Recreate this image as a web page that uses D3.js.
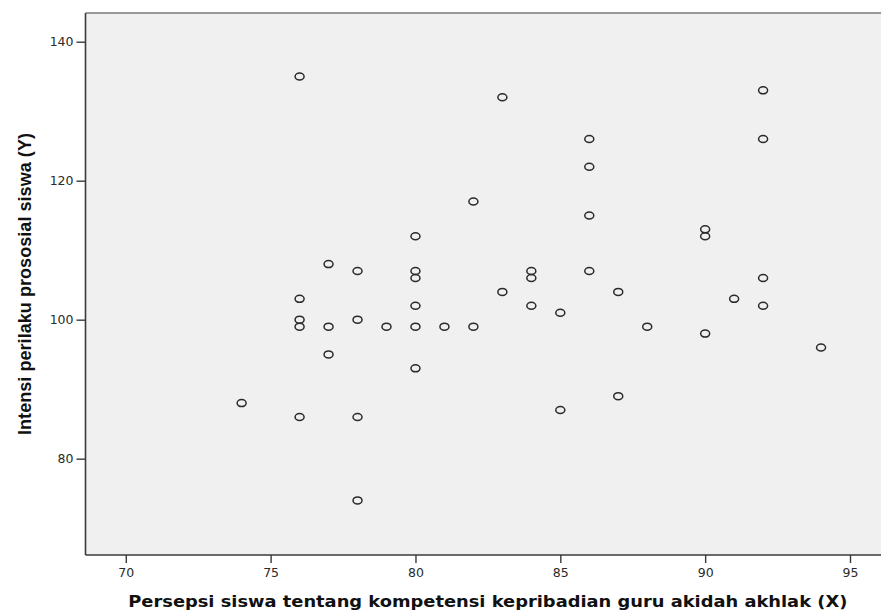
<!DOCTYPE html>
<html>
<head>
<meta charset="utf-8">
<script src="https://cdn.jsdelivr.net/npm/d3@7/dist/d3.min.js"></script>
<style>
  html, body { margin: 0; padding: 0; background: #fff; }
  svg { display: block; }
</style>
</head>
<body>
<svg id="chart" width="881" height="613"></svg>
<script>
const xValues = [76,83,92,86,92,86,82,86,90,90,80,77,78,80,84,86,80,84,92,83,87,76,91,80,84,92,85,76,78,76,77,79,80,81,82,88,90,94,77,80,87,74,85,76,78,78];
const yValues = [135,132,133,126,126,122,117,115,113,112,112,108,107,107,107,107,106,106,106,104,104,103,103,102,102,102,101,100,100,99,99,99,99,99,99,99,98,96,95,93,89,88,87,86,86,74];
const xTicks = [70,75,80,85,90,95];
const yTicks = [80,100,120,140];
const xTitle = "Persepsi siswa tentang kompetensi kepribadian guru akidah akhlak (X)";
const yTitle = "Intensi perilaku prososial siswa (Y)";

const svg = d3.select("#chart");
const plot = { left: 85.5, right: 881, top: 13, bottom: 555 };

const x = d3.scaleLinear().domain([68.61, 96.07]).range([plot.left, plot.right]);
const y = d3.scaleLinear().domain([66.14, 144.13]).range([plot.bottom, plot.top]);

svg.append("rect")
  .attr("x", plot.left).attr("y", plot.top)
  .attr("width", plot.right - plot.left).attr("height", plot.bottom - plot.top)
  .attr("fill", "#f0f0f0");

// top border
svg.append("line")
  .attr("x1", plot.left).attr("x2", plot.right)
  .attr("y1", plot.top).attr("y2", plot.top)
  .attr("stroke", "#7a7a7a").attr("stroke-width", 1.4);

const xAxis = d3.axisBottom(x).tickValues(xTicks).tickSize(8).tickPadding(5).tickFormat(d3.format("d"));
const gx = svg.append("g").attr("transform", `translate(0,${plot.bottom})`).call(xAxis);
gx.select(".domain").remove();
gx.append("line").attr("x1", plot.left).attr("x2", plot.right).attr("y1", 0).attr("y2", 0)
  .attr("stroke", "#3a3a3a").attr("stroke-width", 1.6);

const yAxis = d3.axisLeft(y).tickValues(yTicks).tickSize(9).tickPadding(3).tickFormat(d3.format("d"));
const gy = svg.append("g").attr("transform", `translate(${plot.left},0)`).call(yAxis);
gy.select(".domain").remove();
gy.append("line").attr("x1", 0).attr("x2", 0).attr("y1", plot.top).attr("y2", plot.bottom)
  .attr("stroke", "#3a3a3a").attr("stroke-width", 1.6);

[gx, gy].forEach(g => {
  g.selectAll(".tick line").attr("stroke", "#3a3a3a").attr("stroke-width", 1.4);
  g.selectAll(".tick text")
    .attr("fill", "#2a2a2a")
    .style("font-family", "'DejaVu Sans', sans-serif")
    .style("font-size", "12.5px");
});

// points
svg.append("g").selectAll("ellipse")
  .data(xValues.map((v, i) => [v, yValues[i]]))
  .join("ellipse")
  .attr("cx", d => x(d[0]))
  .attr("cy", d => y(d[1]))
  .attr("rx", 4.5).attr("ry", 3.5)
  .attr("fill", "none")
  .attr("stroke", "#2a2a2a")
  .attr("stroke-width", 1.5);

// x title
svg.append("text")
  .attr("x", 128.3).attr("y", 606.5)
  .attr("textLength", 719).attr("lengthAdjust", "spacingAndGlyphs")
  .style("font-family", "'DejaVu Sans', sans-serif")
  .style("font-weight", "bold").style("font-size", "16px")
  .attr("fill", "#111")
  .text(xTitle);

// y title
svg.append("text")
  .attr("transform", `translate(31,284) rotate(-90)`)
  .attr("text-anchor", "middle")
  .attr("textLength", 302).attr("lengthAdjust", "spacingAndGlyphs")
  .style("font-family", "'Liberation Sans', Arial, sans-serif")
  .style("font-weight", "bold").style("font-size", "19px")
  .attr("fill", "#111")
  .text(yTitle);
</script>
</body>
</html>
